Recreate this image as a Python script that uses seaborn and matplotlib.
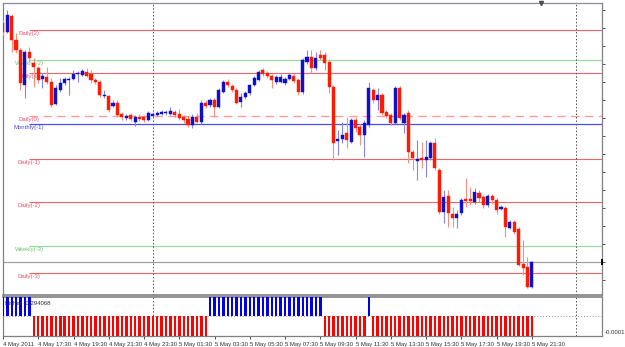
import matplotlib
matplotlib.use("Agg")
import numpy as np
import pandas as pd
import matplotlib.pyplot as plt
import seaborn as sns
from matplotlib.ticker import MultipleLocator

sns.set_theme(style="white")
plt.rcParams["font.family"] = ["Liberation Sans", "DejaVu Sans"]

# ---------------------------------------------------------------------------
# EURUSD M15, 4 May 2011 15:30 -> 5 May 2011 21:30 (121 bars)
# ---------------------------------------------------------------------------
start_time = "2011-05-04 15:30"

opens = [
    1.4927, 1.4918, 1.4934, 1.4910, 1.4900, 1.4865, 1.4898, 1.4887, 1.4882, 1.4871,
    1.4873, 1.4868, 1.4846, 1.4860, 1.4867, 1.4870, 1.4871, 1.4876, 1.4875, 1.4878,
    1.4876, 1.4870, 1.4868, 1.4854, 1.4854, 1.4844, 1.4847, 1.4836, 1.4832, 1.4835,
    1.4828, 1.4833, 1.4833, 1.4830, 1.4834, 1.4835, 1.4836, 1.4837, 1.4836, 1.4838,
    1.4836, 1.4833, 1.4831, 1.4825, 1.4833, 1.4828, 1.4847, 1.4845, 1.4850, 1.4843,
    1.4858, 1.4868, 1.4864, 1.4860, 1.4848, 1.4853, 1.4857, 1.4865, 1.4870, 1.4880,
    1.4877, 1.4874, 1.4868, 1.4868, 1.4867, 1.4871, 1.4874, 1.4870, 1.4858, 1.4888,
    1.4893, 1.4882, 1.4895, 1.4895, 1.4888, 1.4863, 1.4809, 1.4811, 1.4817, 1.4808,
    1.4830, 1.4823, 1.4815, 1.4825, 1.4860, 1.4850, 1.4855, 1.4838, 1.4835, 1.4827,
    1.4862, 1.4827, 1.4837, 1.4798, 1.4789, 1.4792, 1.4790, 1.4792, 1.4807, 1.4780,
    1.4738, 1.4754, 1.4736, 1.4732, 1.4737, 1.4751, 1.4751, 1.4748, 1.4757, 1.4753,
    1.4745, 1.4754, 1.4750, 1.4741, 1.4742, 1.4722, 1.4728, 1.4721, 1.4686, 1.4683,
    1.4663,
]
highs = [
    1.4930, 1.4940, 1.4936, 1.4917, 1.4902, 1.4900, 1.4903, 1.4892, 1.4884, 1.4877,
    1.4883, 1.4872, 1.4865, 1.4872, 1.4873, 1.4873, 1.4880, 1.4879, 1.4881, 1.4882,
    1.4880, 1.4872, 1.4870, 1.4860, 1.4855, 1.4850, 1.4850, 1.4838, 1.4836, 1.4837,
    1.4835, 1.4836, 1.4835, 1.4839, 1.4838, 1.4839, 1.4840, 1.4840, 1.4843, 1.4840,
    1.4841, 1.4835, 1.4834, 1.4836, 1.4837, 1.4850, 1.4850, 1.4852, 1.4852, 1.4862,
    1.4870, 1.4871, 1.4866, 1.4862, 1.4857, 1.4859, 1.4866, 1.4874, 1.4880, 1.4882,
    1.4879, 1.4876, 1.4875, 1.4876, 1.4873, 1.4877, 1.4876, 1.4872, 1.4892, 1.4900,
    1.4900, 1.4898, 1.4900, 1.4898, 1.4890, 1.4865, 1.4820, 1.4828, 1.4833, 1.4832,
    1.4833, 1.4826, 1.4830, 1.4868, 1.4862, 1.4862, 1.4857, 1.4840, 1.4837, 1.4864,
    1.4864, 1.4837, 1.4840, 1.4800, 1.4810, 1.4808, 1.4810, 1.4809, 1.4812, 1.4782,
    1.4760, 1.4760, 1.4743, 1.4740, 1.4752, 1.4772, 1.4763, 1.4762, 1.4760, 1.4755,
    1.4756, 1.4756, 1.4752, 1.4745, 1.4744, 1.4730, 1.4730, 1.4723, 1.4710, 1.4693,
    1.4689,
]
lows = [
    1.4915, 1.4917, 1.4898, 1.4897, 1.4860, 1.4852, 1.4888, 1.4863, 1.4867, 1.4862,
    1.4866, 1.4843, 1.4845, 1.4858, 1.4865, 1.4855, 1.4870, 1.4868, 1.4874, 1.4873,
    1.4867, 1.4866, 1.4853, 1.4852, 1.4838, 1.4843, 1.4833, 1.4830, 1.4830, 1.4829,
    1.4824, 1.4829, 1.4828, 1.4829, 1.4833, 1.4834, 1.4835, 1.4835, 1.4835, 1.4833,
    1.4830, 1.4827, 1.4823, 1.4822, 1.4827, 1.4826, 1.4842, 1.4843, 1.4833, 1.4842,
    1.4857, 1.4863, 1.4858, 1.4846, 1.4843, 1.4851, 1.4855, 1.4864, 1.4869, 1.4874,
    1.4872, 1.4862, 1.4866, 1.4867, 1.4865, 1.4870, 1.4867, 1.4855, 1.4856, 1.4886,
    1.4877, 1.4880, 1.4890, 1.4880, 1.4857, 1.4790, 1.4795, 1.4807, 1.4802, 1.4807,
    1.4818, 1.4805, 1.4793, 1.4823, 1.4847, 1.4840, 1.4835, 1.4832, 1.4825, 1.4826,
    1.4830, 1.4817, 1.4787, 1.4780, 1.4770, 1.4782, 1.4773, 1.4790, 1.4780, 1.4736,
    1.4727, 1.4723, 1.4723, 1.4722, 1.4735, 1.4743, 1.4745, 1.4746, 1.4748, 1.4742,
    1.4743, 1.4746, 1.4736, 1.4740, 1.4713, 1.4721, 1.4716, 1.4684, 1.4675, 1.4662,
    1.4662,
]
closes = [
    1.4918, 1.4935, 1.4910, 1.4900, 1.4867, 1.4898, 1.4892, 1.4883, 1.4870, 1.4874,
    1.4868, 1.4845, 1.4862, 1.4867, 1.4871, 1.4871, 1.4876, 1.4877, 1.4879, 1.4874,
    1.4870, 1.4868, 1.4855, 1.4855, 1.4840, 1.4847, 1.4835, 1.4833, 1.4834, 1.4831,
    1.4833, 1.4831, 1.4830, 1.4837, 1.4836, 1.4837, 1.4838, 1.4838, 1.4839, 1.4835,
    1.4832, 1.4830, 1.4825, 1.4833, 1.4828, 1.4847, 1.4844, 1.4850, 1.4843, 1.4860,
    1.4868, 1.4865, 1.4860, 1.4847, 1.4853, 1.4857, 1.4865, 1.4872, 1.4878, 1.4876,
    1.4874, 1.4870, 1.4873, 1.4873, 1.4871, 1.4875, 1.4869, 1.4858, 1.4890, 1.4893,
    1.4882, 1.4892, 1.4892, 1.4887, 1.4863, 1.4807, 1.4811, 1.4815, 1.4810, 1.4830,
    1.4822, 1.4815, 1.4827, 1.4862, 1.4850, 1.4855, 1.4837, 1.4834, 1.4827, 1.4862,
    1.4832, 1.4835, 1.4798, 1.4792, 1.4791, 1.4790, 1.4793, 1.4807, 1.4782, 1.4738,
    1.4753, 1.4737, 1.4732, 1.4736, 1.4750, 1.4749, 1.4749, 1.4758, 1.4752, 1.4745,
    1.4754, 1.4750, 1.4740, 1.4743, 1.4723, 1.4728, 1.4718, 1.4685, 1.4682, 1.4663,
    1.4688,
]

# Fisher histogram (sign of the clipped value, one per bar)
fisher = [
     1,  1,  1,  1,  1,  1,  1, -1, -1, -1, -1, -1, -1, -1, -1, -1, -1, -1, -1, -1,
    -1, -1, -1, -1, -1, -1, -1, -1, -1, -1, -1, -1, -1, -1, -1, -1, -1, -1, -1, -1,
    -1, -1, -1, -1, -1, -1, -1,  1,  1,  1,  1,  1,  1,  1,  1,  1,  1,  1,  1,  1,
     1,  1,  1,  1,  1,  1,  1,  1,  1,  1,  1,  1,  1, -1, -1, -1, -1, -1, -1, -1,
    -1, -1, -1,  1, -1, -1, -1, -1, -1, -1, -1, -1, -1, -1, -1, -1, -1, -1, -1, -1,
    -1, -1, -1, -1, -1, -1, -1, -1, -1, -1, -1, -1, -1, -1, -1, -1, -1, -1, -1, -1,
    -1,
]

level_names = ["Daily(2)", "Weekly(-2)", "Daily(1)", "Daily(0)", "Monthly(-1)",
               "Daily(-1)", "Daily(-2)", "Weekly(-3)", "Daily(-3)"]
level_prices = [1.4920, 1.4890, 1.4877, 1.4834, 1.4826,
                1.4791, 1.4748, 1.4704, 1.4677]
level_kinds = ["daily", "weekly", "daily", "pivot", "monthly",
               "daily", "daily", "weekly", "daily"]

# ---------------------------------------------------------------------------
# styling
# ---------------------------------------------------------------------------
BULL, BEAR = "#1010c8", "#ff1a00"
BULL_WICK, BEAR_WICK = "#8585e8", "#f59080"
line_style = {
    "daily":   dict(color="#f26464", lw=0.8, ls="-"),
    "weekly":  dict(color="#9edc9e", lw=0.9, ls="-"),
    "monthly": dict(color="#4b4bff", lw=0.9, ls="-"),
    "pivot":   dict(color="#ff9a9a", lw=1.0, ls=(0, (6, 4))),
}
text_color = {"daily": "#e8506e", "weekly": "#6cc46c",
              "monthly": "#4b4bdc", "pivot": "#e8506e"}
FRAME = "#808080"
FS = 4.3

df = pd.DataFrame({"open": opens, "high": highs, "low": lows, "close": closes})
df["bar"] = np.arange(len(df))
df["up"] = df["close"] >= df["open"]
t0 = pd.Timestamp(start_time)
step = pd.Timedelta("15min")

W, H = 625, 347
fig = plt.figure(figsize=(W / 100, H / 100), dpi=100)
fig.patch.set_facecolor("white")
ax = fig.add_axes([3 / W, 1 - 295 / H, 599 / W, 292 / H])
ax2 = fig.add_axes([3 / W, 1 - 336 / H, 599 / W, 39 / H])
xlim = (0.05, 135.9)

# --- main price panel --------------------------------------------------------
for name, price, kind in zip(level_names, level_prices, level_kinds):
    ax.hlines(price, 6, xlim[1], zorder=1, **line_style[kind])
    ax.annotate(name, xy=(6, price), xytext=(0, -2.8), textcoords="offset points",
                ha="center", va="center", fontsize=FS, color=text_color[kind], zorder=1)

ax.axhline(closes[-1], color="#a0a0a0", lw=0.9, zorder=1)

wick_cols = np.where(df["up"], BULL_WICK, BEAR_WICK)
body_cols = np.where(df["up"], BULL, BEAR)
ax.vlines(df["bar"], df["low"], df["high"], colors=wick_cols, lw=0.8, zorder=3)
ax.bar(df["bar"], df["close"] - df["open"], bottom=df["open"], width=0.7,
       color=body_cols, edgecolor=body_cols, lw=0.3, zorder=4)

ax.set_xlim(*xlim)
ax.set_ylim(1.4655, 1.4947)
ax.yaxis.set_major_locator(MultipleLocator(0.0018))
ax.yaxis.tick_right()
ax.tick_params(axis="y", right=True, left=False, length=2, width=0.6,
               colors="#303030", labelright=False, direction="out")
ax.tick_params(axis="x", bottom=False, labelbottom=False)
ax.set_facecolor("white")
for side, sp in ax.spines.items():
    sp.set_color(FRAME)
    sp.set_linewidth(0.9)
ax.spines["top"].set_color("#8a8aa8")
ax.spines["bottom"].set_linewidth(1.2)

# shift marker on the top edge, bid marker on the price scale
ax.plot([122], [1.4947], marker="v", ms=3, color="#505050", clip_on=False, zorder=6)
ax.plot([xlim[1]], [closes[-1]], marker="|", ms=4, mew=1.4, color="black",
        clip_on=False, zorder=6)

# --- Fisher panel ------------------------------------------------------------
fdf = pd.DataFrame({"bar": df["bar"], "fisher": fisher})
fdf["sign"] = np.where(fdf["fisher"] > 0, "up", "down")
sns.barplot(data=fdf, x="bar", y="fisher", hue="sign",
            palette={"up": "#0000f0", "down": "#ff0000"}, native_scale=True,
            width=0.55, dodge=False, errorbar=None, legend=False, saturation=1,
            linewidth=0, ax=ax2, zorder=3)
ax2.axhline(0, color="#909090", lw=0.7, ls=(0, (1, 2)), zorder=2)
ax2.set_xlim(*xlim)
ax2.set_ylim(-1.0, 0.95)
ax2.set_xlabel("")
ax2.set_ylabel("")
ax2.set_yticks([])
ax2.set_facecolor("white")
for side, sp in ax2.spines.items():
    sp.set_color(FRAME)
    sp.set_linewidth(0.9)
ax2.spines["top"].set_linewidth(1.2)
ax2.text(0.004, 0.84, "Fisher -0.294068", transform=ax2.transAxes, ha="left",
         va="center", fontsize=FS, color="#303030", zorder=5)
ax2.text(1.004, 0.08, "-0.0001", transform=ax2.transAxes, ha="left",
         va="center", fontsize=FS, color="#303030", clip_on=False)

# time axis: a label every 2 hours
tick_times = pd.date_range(t0, t0 + 120 * step, freq="2h")
tick_bars = [(t - t0) / step for t in tick_times]
tick_labels = [f"{t.day} {t:%b %Y}" if i == 0 else f"{t.day} {t:%b %H:%M}"
               for i, t in enumerate(tick_times)]
ax2.set_xticks(tick_bars)
ax2.set_xticklabels(tick_labels, ha="left", fontsize=FS, color="#303030")
ax2.tick_params(axis="x", bottom=True, length=2.5, width=0.6, color="#303030",
                pad=1.5, direction="out")

# day separators
for day in ["2011-05-05", "2011-05-06"]:
    b = (pd.Timestamp(day) - t0) / step
    for a in (ax, ax2):
        a.axvline(b, color="#505050", lw=0.7, ls=(0, (1.5, 2)), zorder=2)

fig.savefig("out.png", dpi=100)
